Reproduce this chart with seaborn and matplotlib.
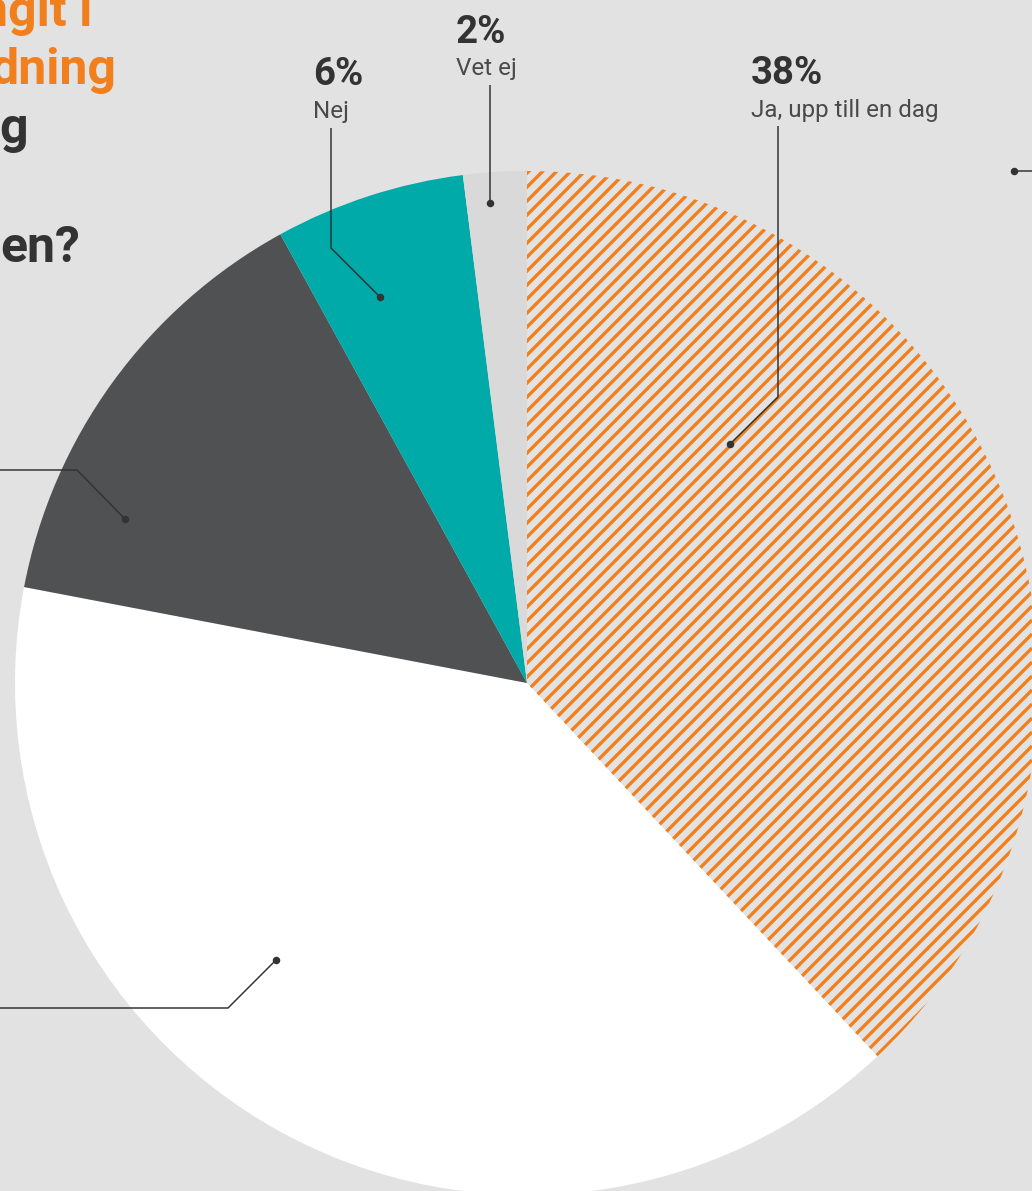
import matplotlib
matplotlib.use('Agg')
import matplotlib.pyplot as plt
from matplotlib.collections import LineCollection
import seaborn as sns

# share of answers, clockwise from 12 o'clock
shares = [38, 40, 14, 6, 2]
answers = ['Ja, upp till en dag', None, None, 'Nej', 'Vet ej']
pct_labels = ['38%', None, None, '6%', '2%']
slice_colors = ['#e2e2e2', '#ffffff', '#505153', '#00aaa8', '#d9d9d9']
slice_striped = [True, False, False, False, False]

# title fragments visible at the left edge (rest is cut off)
title_lines = ['ngit i', 'dning', 'g', 'en?']
title_colors = ['#f27f1d', '#f27f1d', '#333333', '#333333']

W, H, DPI = 1032, 1191, 120
BG = '#e2e2e2'
ORANGE = '#f27f1d'
INK = '#333333'

sns.set_theme(style='white', rc={'axes.facecolor': BG, 'figure.facecolor': BG})
plt.rcParams['font.family'] = ['Roboto', 'DejaVu Sans']

fig = plt.figure(figsize=(W / DPI, H / DPI), dpi=DPI)
ax = fig.add_axes([0, 0, 1, 1])

# y axis is inverted (pixel-like coords), so counterclock in data = clockwise on screen
wedges, _ = ax.pie(shares, colors=slice_colors, startangle=-90, counterclock=True,
                   center=(527, 683), radius=512, frame=True,
                   wedgeprops=dict(linewidth=0))

# diagonal orange stripes clipped to the striped wedge
step = 14
stripes = [[(0, c), (W, c - W)] for c in range(0, W + H + step, step)]
for w, striped in zip(wedges, slice_striped):
    if striped:
        lc = LineCollection(stripes, colors=ORANGE, linewidths=2.0,
                            capstyle='butt', zorder=w.get_zorder() + 0.1)
        ax.add_collection(lc)
        lc.set_clip_path(w)

ax.set_xlim(0, W)
ax.set_ylim(H, 0)
ax.set_aspect('equal')
ax.axis('off')

# title fragments
for i, (t, c) in enumerate(zip(title_lines, title_colors)):
    right = [92, 116, 28, 80][i]
    base = [26, 84, 143, 262][i]
    ax.text(right, base, t, ha='right', va='baseline', fontsize=30,
            fontweight='bold', color=c)

# callout texts: (x, pct baseline, label baseline)
text_pos = {0: (751, 84, 117), 3: (313, 85, 118), 4: (456, 43, 75)}
for i, (x, b1, b2) in text_pos.items():
    ax.text(x, b1, pct_labels[i], ha='left', va='baseline', fontsize=23,
            fontweight='bold', color=INK)
    ax.text(x, b2, answers[i], ha='left', va='baseline', fontsize=14.5,
            fontweight='normal', color='#4a4a4a')

# leader lines
leaders = [
    [(778, 126), (778, 397), (730, 444)],
    [(331, 128), (331, 248), (380, 297)],
    [(490, 85), (490, 203)],
    [(0, 470), (77, 470), (125, 519)],
    [(0, 1008), (228, 1008), (276, 960)],
    [(1032, 171), (1014, 171)],
]
for pts in leaders:
    xs, ys = zip(*pts)
    ax.plot(xs, ys, color=INK, lw=0.9, solid_capstyle='butt', zorder=5)
    ax.plot(xs[-1], ys[-1], 'o', color=INK, ms=3.5, zorder=5)

fig.savefig('out.png', dpi=DPI, facecolor=BG)
